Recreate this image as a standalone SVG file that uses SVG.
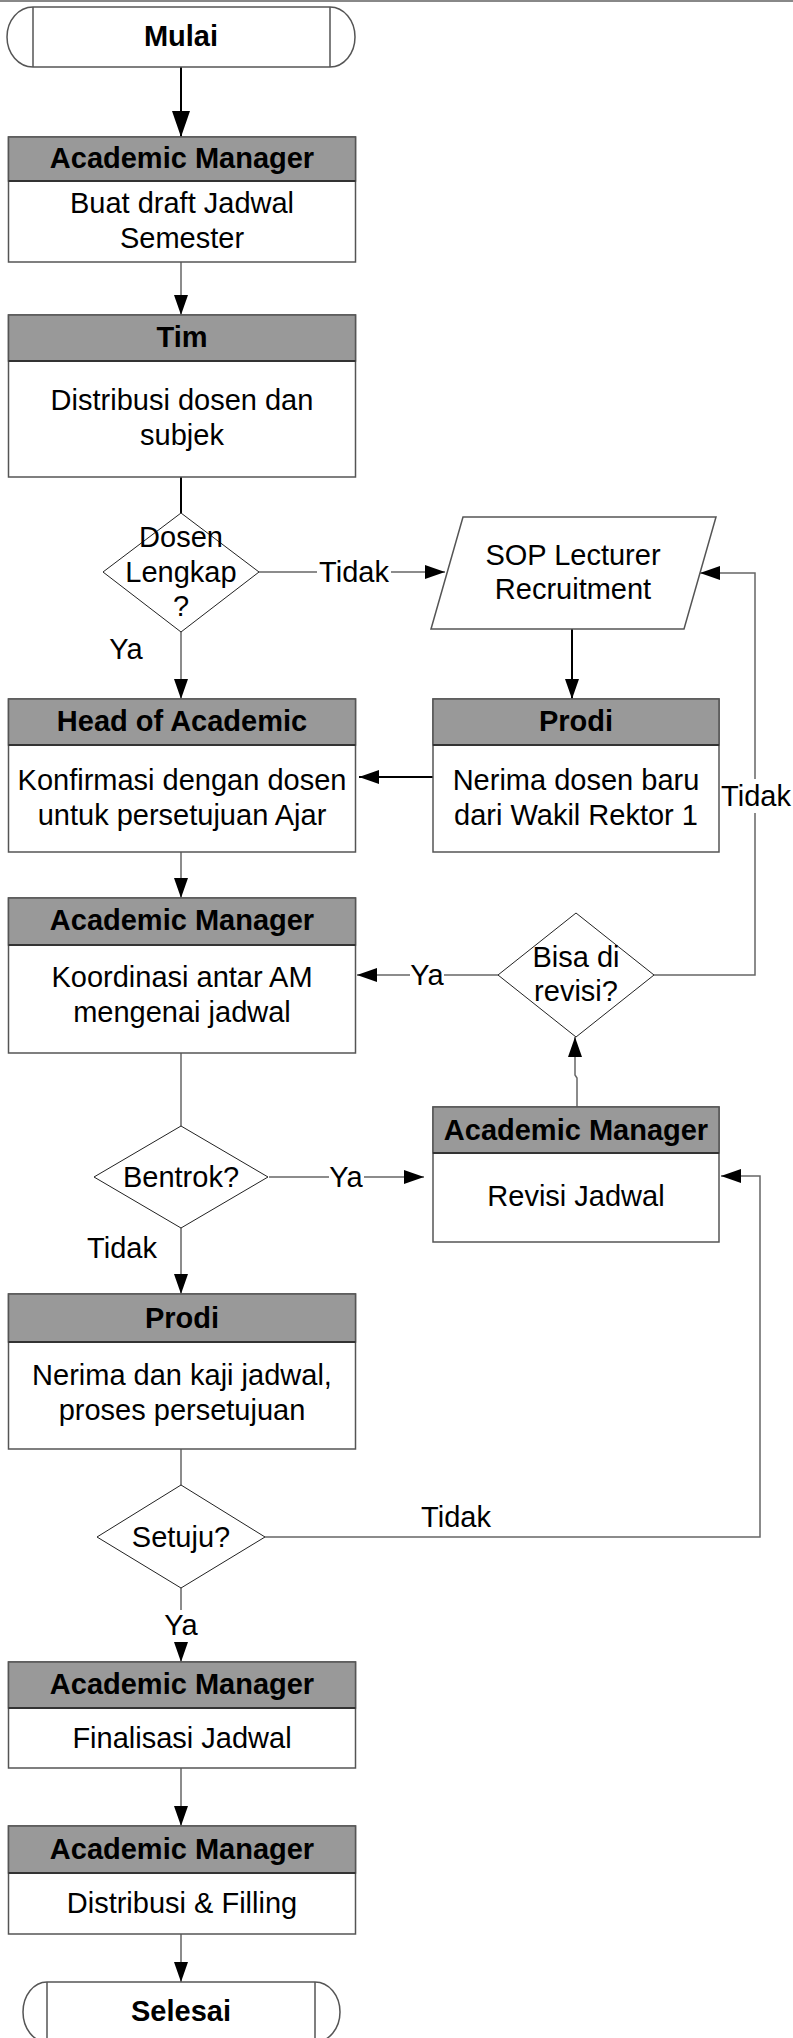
<svg xmlns="http://www.w3.org/2000/svg" width="793" height="2038" viewBox="0 0 793 2038">
<style>
.box{fill:#fff;stroke:#555;stroke-width:1.5}
.hdr{fill:#999;stroke:#555;stroke-width:1.5}
.div{stroke:#333;stroke-width:2}
.dia{fill:#fff;stroke:#222;stroke-width:1}
.t{font-family:"Liberation Sans",Arial,sans-serif;font-size:29px;fill:#000;text-anchor:middle}
.b{font-weight:bold}
.c{fill:none;stroke:#666;stroke-width:1.5}
.k{fill:none;stroke:#000;stroke-width:2}
.lb{fill:#fff}
</style>
<defs>
<marker id="ah" markerUnits="userSpaceOnUse" markerWidth="20" markerHeight="14" refX="20" refY="7" orient="auto"><path d="M0,0 L20,7 L0,14 z" fill="#000"/></marker>
<marker id="ahb" markerUnits="userSpaceOnUse" markerWidth="26" markerHeight="18" refX="26" refY="9" orient="auto"><path d="M0,0 L26,9 L0,18 z" fill="#000"/></marker>
</defs>
<rect width="793" height="2038" fill="#fff"/>
<line x1="0" y1="1" x2="793" y2="1" stroke="#888" stroke-width="2"/>

<g id="connectors">
<path class="k" d="M181,67 V137" marker-end="url(#ahb)"/>
<path class="c" d="M181,262 V315" marker-end="url(#ah)"/>
<path class="k" d="M181,477 V513"/>
<path class="c" d="M259,572 H445" marker-end="url(#ah)"/>
<rect class="lb" x="317" y="558" width="74" height="30"/>
<text class="t" x="354" y="582">Tidak</text>
<path class="c" d="M181,632 V699" marker-end="url(#ah)"/>
<text class="t" x="126" y="659">Ya</text>
<path class="k" d="M572,629 V699" marker-end="url(#ah)"/>
<path class="k" d="M433,777 H359" marker-end="url(#ah)"/>
<path class="c" d="M181,852 V898" marker-end="url(#ah)"/>
<path class="c" d="M181,1053 V1126"/>
<path class="c" d="M269,1177 H424" marker-end="url(#ah)"/>
<rect class="lb" x="329" y="1163" width="35" height="30"/>
<text class="t" x="346" y="1187">Ya</text>
<path class="c" d="M181,1228 V1294" marker-end="url(#ah)"/>
<text class="t" x="122" y="1258">Tidak</text>
<path class="c" d="M577,1107 V1078 L575,1075 V1037" marker-end="url(#ah)"/>
<path class="c" d="M498,975 H357" marker-end="url(#ah)"/>
<rect class="lb" x="410" y="961" width="34" height="30"/>
<text class="t" x="427" y="985">Ya</text>
<path class="c" d="M654,975 H755 V573 H700" marker-end="url(#ah)"/>
<rect class="lb" x="721" y="779" width="70" height="34"/>
<text class="t" x="756" y="806">Tidak</text>
<path class="c" d="M181,1449 V1485"/>
<path class="c" d="M265,1537 H760 V1176 H721" marker-end="url(#ah)"/>
<text class="t" x="456" y="1527">Tidak</text>
<path class="c" d="M181,1588 V1662" marker-end="url(#ah)"/>
<rect class="lb" x="164" y="1610" width="35" height="32"/>
<text class="t" x="181" y="1635">Ya</text>
<path class="c" d="M181,1768 V1826" marker-end="url(#ah)"/>
<path class="c" d="M181,1934 V1982" marker-end="url(#ah)"/>
</g>

<g id="mulai">
<path class="box" d="M33,7 H330 A25,30 0 0 1 330,67 H33 A26,30 0 0 1 33,7 Z"/>
<line x1="33" y1="7" x2="33" y2="67" stroke="#555" stroke-width="1.5"/>
<line x1="330" y1="7" x2="330" y2="67" stroke="#555" stroke-width="1.5"/>
<text class="t b" x="181" y="46">Mulai</text>
</g>

<g id="am1">
<rect class="box" x="8.5" y="137" width="347" height="125"/>
<rect class="hdr" x="8.5" y="137" width="347" height="44"/>
<line class="div" x1="8.5" y1="181" x2="355.5" y2="181"/>
<text class="t b" x="182" y="168">Academic Manager</text>
<text class="t" x="182" y="213">Buat draft Jadwal</text>
<text class="t" x="182" y="248">Semester</text>
</g>

<g id="tim">
<rect class="box" x="8.5" y="315" width="347" height="162"/>
<rect class="hdr" x="8.5" y="315" width="347" height="46"/>
<line class="div" x1="8.5" y1="361" x2="355.5" y2="361"/>
<text class="t b" x="182" y="347">Tim</text>
<text class="t" x="182" y="410">Distribusi dosen dan</text>
<text class="t" x="182" y="445">subjek</text>
</g>

<g id="dosen-lengkap">
<polygon class="dia" points="181,513 259,572 181,632 103,572"/>
<text class="t" x="181" y="547">Dosen</text>
<text class="t" x="181" y="582">Lengkap</text>
<text class="t" x="181" y="616">?</text>
</g>

<g id="sop">
<polygon class="box" points="463,517 716,517 684,629 431,629"/>
<text class="t" x="573" y="565">SOP Lecturer</text>
<text class="t" x="573" y="599">Recruitment</text>
</g>

<g id="head-academic">
<rect class="box" x="8.5" y="699" width="347" height="153"/>
<rect class="hdr" x="8.5" y="699" width="347" height="46"/>
<line class="div" x1="8.5" y1="745" x2="355.5" y2="745"/>
<text class="t b" x="182" y="731">Head of Academic</text>
<text class="t" x="182" y="790">Konfirmasi dengan dosen</text>
<text class="t" x="182" y="825">untuk persetujuan Ajar</text>
</g>

<g id="prodi1">
<rect class="box" x="433" y="699" width="286" height="153"/>
<rect class="hdr" x="433" y="699" width="286" height="46"/>
<line class="div" x1="433" y1="745" x2="719" y2="745"/>
<text class="t b" x="576" y="731">Prodi</text>
<text class="t" x="576" y="790">Nerima dosen baru</text>
<text class="t" x="576" y="825">dari Wakil Rektor 1</text>
</g>

<g id="am2">
<rect class="box" x="8.5" y="898" width="347" height="155"/>
<rect class="hdr" x="8.5" y="898" width="347" height="47"/>
<line class="div" x1="8.5" y1="945" x2="355.5" y2="945"/>
<text class="t b" x="182" y="930">Academic Manager</text>
<text class="t" x="182" y="987">Koordinasi antar AM</text>
<text class="t" x="182" y="1022">mengenai jadwal</text>
</g>

<g id="bisa-revisi">
<polygon class="dia" points="576,913 654,975 576,1037 498,975"/>
<text class="t" x="576" y="967">Bisa di</text>
<text class="t" x="576" y="1001">revisi?</text>
</g>

<g id="bentrok">
<polygon class="dia" points="181,1126 268,1177 181,1228 94,1177"/>
<text class="t" x="181" y="1187">Bentrok?</text>
</g>

<g id="revisi">
<rect class="box" x="433" y="1107" width="286" height="135"/>
<rect class="hdr" x="433" y="1107" width="286" height="46"/>
<line class="div" x1="433" y1="1153" x2="719" y2="1153"/>
<text class="t b" x="576" y="1140">Academic Manager</text>
<text class="t" x="576" y="1206">Revisi Jadwal</text>
</g>

<g id="prodi2">
<rect class="box" x="8.5" y="1294" width="347" height="155"/>
<rect class="hdr" x="8.5" y="1294" width="347" height="48"/>
<line class="div" x1="8.5" y1="1342" x2="355.5" y2="1342"/>
<text class="t b" x="182" y="1328">Prodi</text>
<text class="t" x="182" y="1385">Nerima dan kaji jadwal,</text>
<text class="t" x="182" y="1420">proses persetujuan</text>
</g>

<g id="setuju">
<polygon class="dia" points="181,1485 265,1537 181,1588 97,1537"/>
<text class="t" x="181" y="1547">Setuju?</text>
</g>

<g id="am3">
<rect class="box" x="8.5" y="1662" width="347" height="106"/>
<rect class="hdr" x="8.5" y="1662" width="347" height="46"/>
<line class="div" x1="8.5" y1="1708" x2="355.5" y2="1708"/>
<text class="t b" x="182" y="1694">Academic Manager</text>
<text class="t" x="182" y="1748">Finalisasi Jadwal</text>
</g>

<g id="am4">
<rect class="box" x="8.5" y="1826" width="347" height="108"/>
<rect class="hdr" x="8.5" y="1826" width="347" height="47"/>
<line class="div" x1="8.5" y1="1873" x2="355.5" y2="1873"/>
<text class="t b" x="182" y="1859">Academic Manager</text>
<text class="t" x="182" y="1913">Distribusi &amp; Filling</text>
</g>

<g id="selesai">
<path class="box" d="M47,1982 H315 A25,30 0 0 1 315,2042 H47 A24,30 0 0 1 47,1982 Z"/>
<line x1="47" y1="1982" x2="47" y2="2042" stroke="#555" stroke-width="1.5"/>
<line x1="315" y1="1982" x2="315" y2="2042" stroke="#555" stroke-width="1.5"/>
<text class="t b" x="181" y="2021">Selesai</text>
</g>
</svg>
